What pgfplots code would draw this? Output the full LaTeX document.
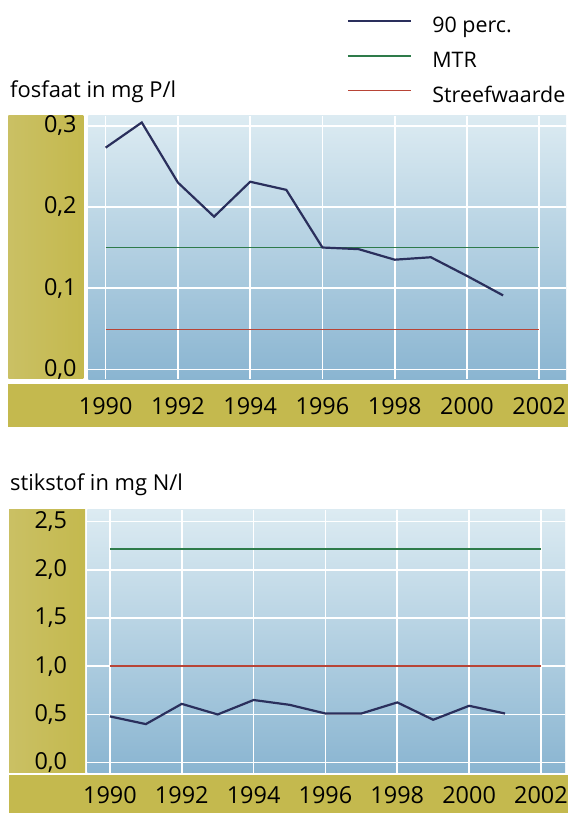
\documentclass[border=0pt]{standalone}
\usepackage{fontspec}
\setmainfont{Open Sans}
\usepackage{pgfplots}
\pgfplotsset{compat=1.18}
\definecolor{navy}{HTML}{2A2F5C}
\definecolor{mtr}{HTML}{2E7B4A}
\definecolor{streef}{HTML}{B84436}
\definecolor{bandY}{HTML}{C4B94E}
\definecolor{bandL}{HTML}{CAC064}
\definecolor{skyT}{HTML}{DCEBF2}
\definecolor{skyB}{HTML}{8AB5D1}
\pgfplotsset{panel/.style={
  scale only axis,
  axis line style={draw=none},
  major tick length=0pt,
  tick style={draw=none},
  grid=major,
  major grid style={white, line width=1.6bp},
  axis background/.style={shade, top color=skyT, bottom color=skyB},
  xtick={1990,1992,...,2002},
  /pgf/number format/assume math mode=true,
  ticklabel style={font=\fontsize{23.5}{27}\selectfont},
  xticklabel style={/pgf/number format/1000 sep={}},
  yticklabel style={/pgf/number format/use comma, /pgf/number format/fixed, /pgf/number format/fixed zerofill, /pgf/number format/precision=1},
  clip=false,
},
topframe/.style={scale only axis,
  at={(88.3bp,433.7bp)}, anchor=south west,
  width=477.7bp, height=263.3bp,
  xmin=1989.52, xmax=2002.74, ymin=-0.0123, ymax=0.312, clip=false},
}
\begin{document}
\begin{tikzpicture}[x=1bp,y=1bp]
\useasboundingbox (0,0) rectangle (568,813);
\fill[bandY] (8.3,386) rectangle (568,429);
\shade[left color=bandL, right color=bandY] (8.3,434.7) rectangle (83.3,697);
\fill[bandY] (9,0) rectangle (568,37.7);
\shade[left color=bandL, right color=bandY] (9,40.3) rectangle (85,303);
\node[anchor=west, inner sep=0pt, font=\fontsize{22}{26}\selectfont] at (10,721) {fosfaat in mg P/l};
\node[anchor=west, inner sep=0pt, font=\fontsize{22}{26}\selectfont] at (10,328) {stikstof in mg N/l};

\begin{axis}[panel, topframe,
  ytick={0,0.1,0.2,0.3},
  yticklabel style={anchor=east, inner sep=0pt, xshift=-11.5bp},
  xticklabel style={anchor=center, inner sep=0pt, yshift=-26.5bp},
]
\addplot[draw=mtr, line width=1.8bp] coordinates {(1990,0.15)(2002,0.15)};
\end{axis}
\begin{axis}[hide axis, topframe]
\addplot[draw=streef, line width=1.8bp] coordinates {(1990,0.049)(2002,0.049)};
\end{axis}
\begin{axis}[hide axis, topframe]
\addplot[draw=navy, line width=2.2bp] coordinates {(1990,0.273)(1991,0.304)(1992,0.230)(1993,0.188)(1994,0.231)(1995,0.221)(1996,0.150)(1997,0.148)(1998,0.135)(1999,0.138)(2000,0.115)(2001,0.091)};
\end{axis}

\begin{axis}[panel,
  at={(87.3bp,40.3bp)}, anchor=south west,
  width=477.7bp, height=262.7bp,
  xmin=1989.37, xmax=2002.67, ymin=-0.104, ymax=2.621,
  ytick={0,0.5,...,2.5},
  yticklabel style={anchor=east, inner sep=0pt, xshift=-20bp},
  xticklabel style={anchor=center, inner sep=0pt, yshift=-22bp},
]
\addplot[draw=navy, line width=2.2bp] coordinates {(1990,0.48)(1991,0.40)(1992,0.61)(1993,0.50)(1994,0.65)(1995,0.60)(1996,0.51)(1997,0.51)(1998,0.625)(1999,0.445)(2000,0.59)(2001,0.51)};
\addplot[draw=mtr, line width=1.8bp] coordinates {(1990,2.22)(2002,2.22)};
\addplot[draw=streef, line width=1.8bp] coordinates {(1990,1.0)(2002,1.0)};
\end{axis}

\begin{axis}[hide axis, topframe, xmin=0, xmax=1, ymin=0, ymax=1,
  legend image code/.code={\draw[#1] (0bp,6.5bp) -- (63.4bp,6.5bp);},
  legend cell align=left,
  legend style={draw=none, fill=none, at={(0.5407,1.3771)}, anchor=north west,
    inner sep=0pt, row sep=13.8bp, column sep=20bp,
    nodes={inner sep=0pt, text height=16bp, text depth=5bp},
    font=\fontsize{21.5}{26}\selectfont},
]
\addlegendimage{draw=navy, line width=2.2bp}
\addlegendentry{90 perc.}
\addlegendimage{draw=mtr, line width=1.8bp}
\addlegendentry{MTR}
\addlegendimage{draw=streef, line width=1.8bp}
\addlegendentry{Streefwaarde}
\end{axis}
\end{tikzpicture}
\end{document}
